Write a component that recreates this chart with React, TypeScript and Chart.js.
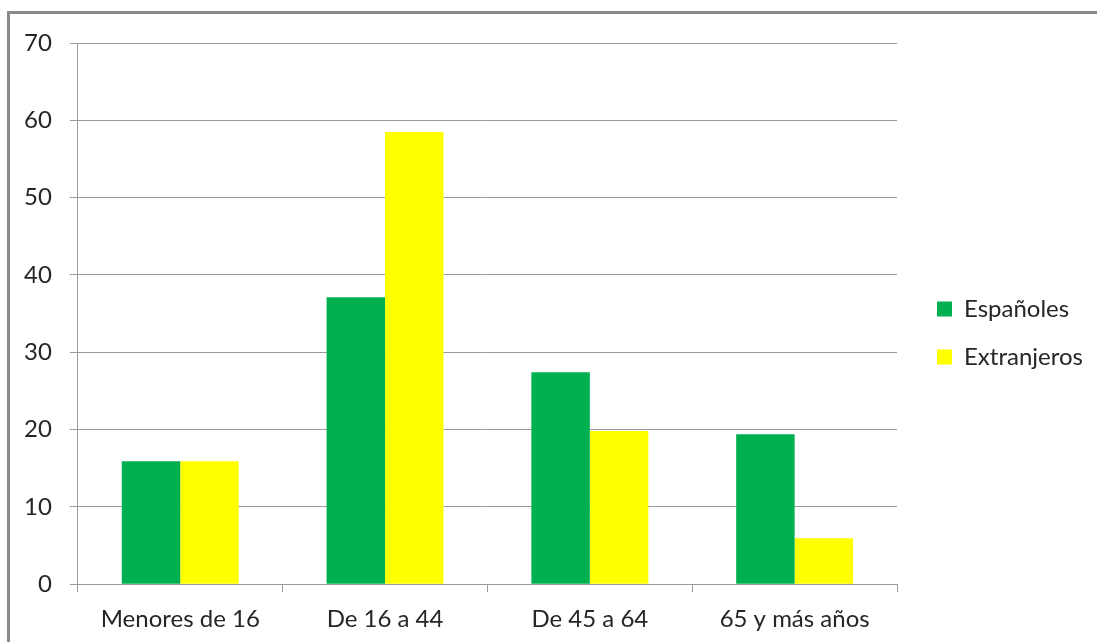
import React, { useEffect, useRef } from "react";
import { Chart, registerables } from "chart.js";

Chart.register(...registerables);

const categories = ["Menores de 16", "De 16 a 44", "De 45 a 64", "65 y más años"];
const espanoles = [15.9, 37.1, 27.4, 19.4];
const extranjeros = [15.9, 58.5, 19.8, 5.95];
const seriesNames = ["Españoles", "Extranjeros"];

const FONT = "Lato, 'Open Sans', sans-serif";

const legendShift = {
  id: "legendShift",
  afterLayout(chart: any) {
    const lg = chart.legend;
    if (!lg) return;
    const dx = 937 - (lg.left + 24);
    lg.left += dx;
    lg.right += dx;
    const dy = 333 - (lg.top + lg.bottom) / 2;
    lg.top += dy;
    lg.bottom += dy;
  },
};

export default function App() {
  const ref = useRef<HTMLCanvasElement | null>(null);
  useEffect(() => {
    if (!ref.current) return;
    const chart = new Chart(ref.current, {
      type: "bar",
      data: {
        labels: categories,
        datasets: [
          { label: seriesNames[0], data: espanoles, backgroundColor: "#00B050", borderWidth: 0 },
          { label: seriesNames[1], data: extranjeros, backgroundColor: "#FFFF00", borderWidth: 0 },
        ],
      },
      plugins: [legendShift],
      options: {
        responsive: false,
        animation: false,
        layout: { padding: { top: 43, bottom: -5, left: 6, right: 20 } },
        datasets: { bar: { categoryPercentage: 0.571, barPercentage: 1 } } as any,
        plugins: {
          tooltip: { enabled: false },
          legend: {
            position: "right",
            labels: {
              boxWidth: 15,
              boxHeight: 15,
              padding: 24,
              color: "#262626",
              font: { family: FONT, size: 24 },
            },
          },
        },
        scales: {
          x: {
            grid: { display: true, drawOnChartArea: false, drawTicks: true, tickLength: 8, color: "#9a9a9a", offset: true },
            border: { display: true, color: "#9a9a9a", width: 1 },
            ticks: { color: "#262626", font: { family: FONT, size: 24 }, padding: 13, maxRotation: 0 },
          },
          y: {
            min: 0,
            max: 70,
            ticks: { stepSize: 10, color: "#262626", font: { family: FONT, size: 24 }, padding: 18 },
            grid: { color: "#9a9a9a", tickLength: 8, drawTicks: true },
            border: { display: true, color: "#9a9a9a", width: 1 },
          },
        },
      },
    });
    return () => chart.destroy();
  }, []);
  return (
    <div style={{ position: "absolute", left: 0, top: 0, width: 1097, height: 642, overflow: "hidden", background: "#fff" }}>
      <div
        style={{
          position: "absolute",
          left: 7,
          top: 11,
          width: 1200,
          height: 800,
          borderTop: "3px solid #8a8a8a",
          borderLeft: "3px solid #8a8a8a",
        }}
      />
      <canvas ref={ref} width={1097} height={642} style={{ position: "absolute", left: 0, top: 0 }} />
    </div>
  );
}
